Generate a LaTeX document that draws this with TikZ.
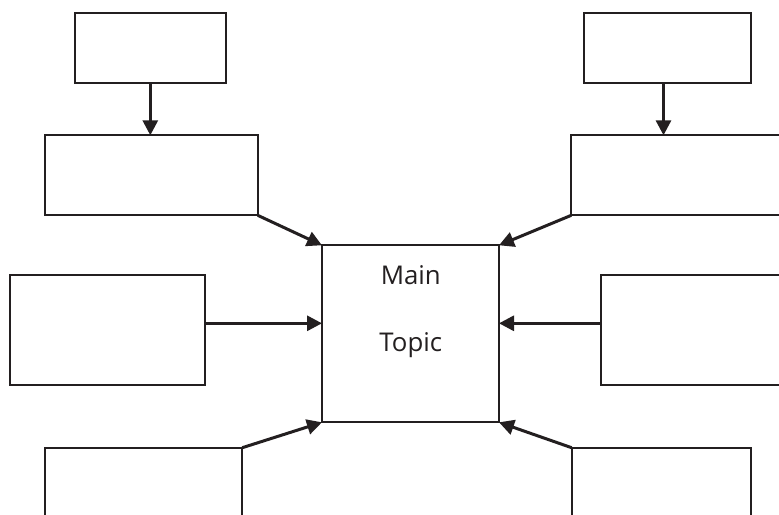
\documentclass[tikz,border=0pt]{standalone}
\usepackage{fontspec}
\setmainfont{Open Sans}
\usetikzlibrary{arrows.meta}
\definecolor{ink}{HTML}{231F20}
\tikzset{
  box/.style={draw=ink, line width=2pt, fill=white, rectangle, inner sep=0pt, outer sep=0pt},
  link/.style={draw=ink, line width=3pt, -{Triangle[length=15pt,width=15pt]}, shorten >=0pt},
  topic/.style={font=\fontsize{25.8}{31}\selectfont, text=ink, inner sep=0pt}
}
\begin{document}
\begin{tikzpicture}[x=1pt, y=-1pt]
  \useasboundingbox (0,0) rectangle (779,514);
  \clip (0,0) rectangle (779,514);
  % left column
  \node[box, minimum width=150.7pt, minimum height=69.4pt] (tl1) at (150.3,48) {};
  \node[box, minimum width=212.4pt, minimum height=80pt] (tl2) at (151.5,175.3) {};
  \node[box, minimum width=195pt, minimum height=109.7pt] (lm) at (107.8,330.2) {};
  \node[box, minimum width=197pt, minimum height=80pt] (bl) at (143.8,487.7) {};
  % right column
  \node[box, minimum width=167pt, minimum height=69.4pt] (tr1) at (667.5,48) {};
  \node[box, minimum width=220pt, minimum height=80pt] (tr2) at (681.3,175.3) {};
  \node[box, minimum width=190pt, minimum height=109.7pt] (rm) at (696.3,330.2) {};
  \node[box, minimum width=179.3pt, minimum height=80pt] (br) at (661.3,487.7) {};
  % central topic
  \node[box, minimum width=177pt, minimum height=177pt] (hub) at (410.5,333.8) {};
  \node[topic, anchor=base] (tmain) at (410.8,284) {Main};
  \node[topic, anchor=base] (ttopic) at (410.8,351.5) {Topic};
  \coordinate (level) at (0,323.3);
  % connectors
  \draw[link] (tl1.south) -- (tl1.south |- tl2.north);
  \draw[link] ([xshift=-4pt]tr1.south) -- ([xshift=-4pt]tr1.south |- tr2.north);
  \draw[link] (tl2.south east) -- (hub.north west);
  \draw[link] (tr2.south west) -- (hub.north east);
  \draw[link] (lm.east |- level) -- (hub.west |- level);
  \draw[link] (rm.west |- level) -- (hub.east |- level);
  \draw[link] (bl.north east) -- (hub.south west);
  \draw[link] (br.north west) -- (hub.south east);
\end{tikzpicture}
\end{document}
